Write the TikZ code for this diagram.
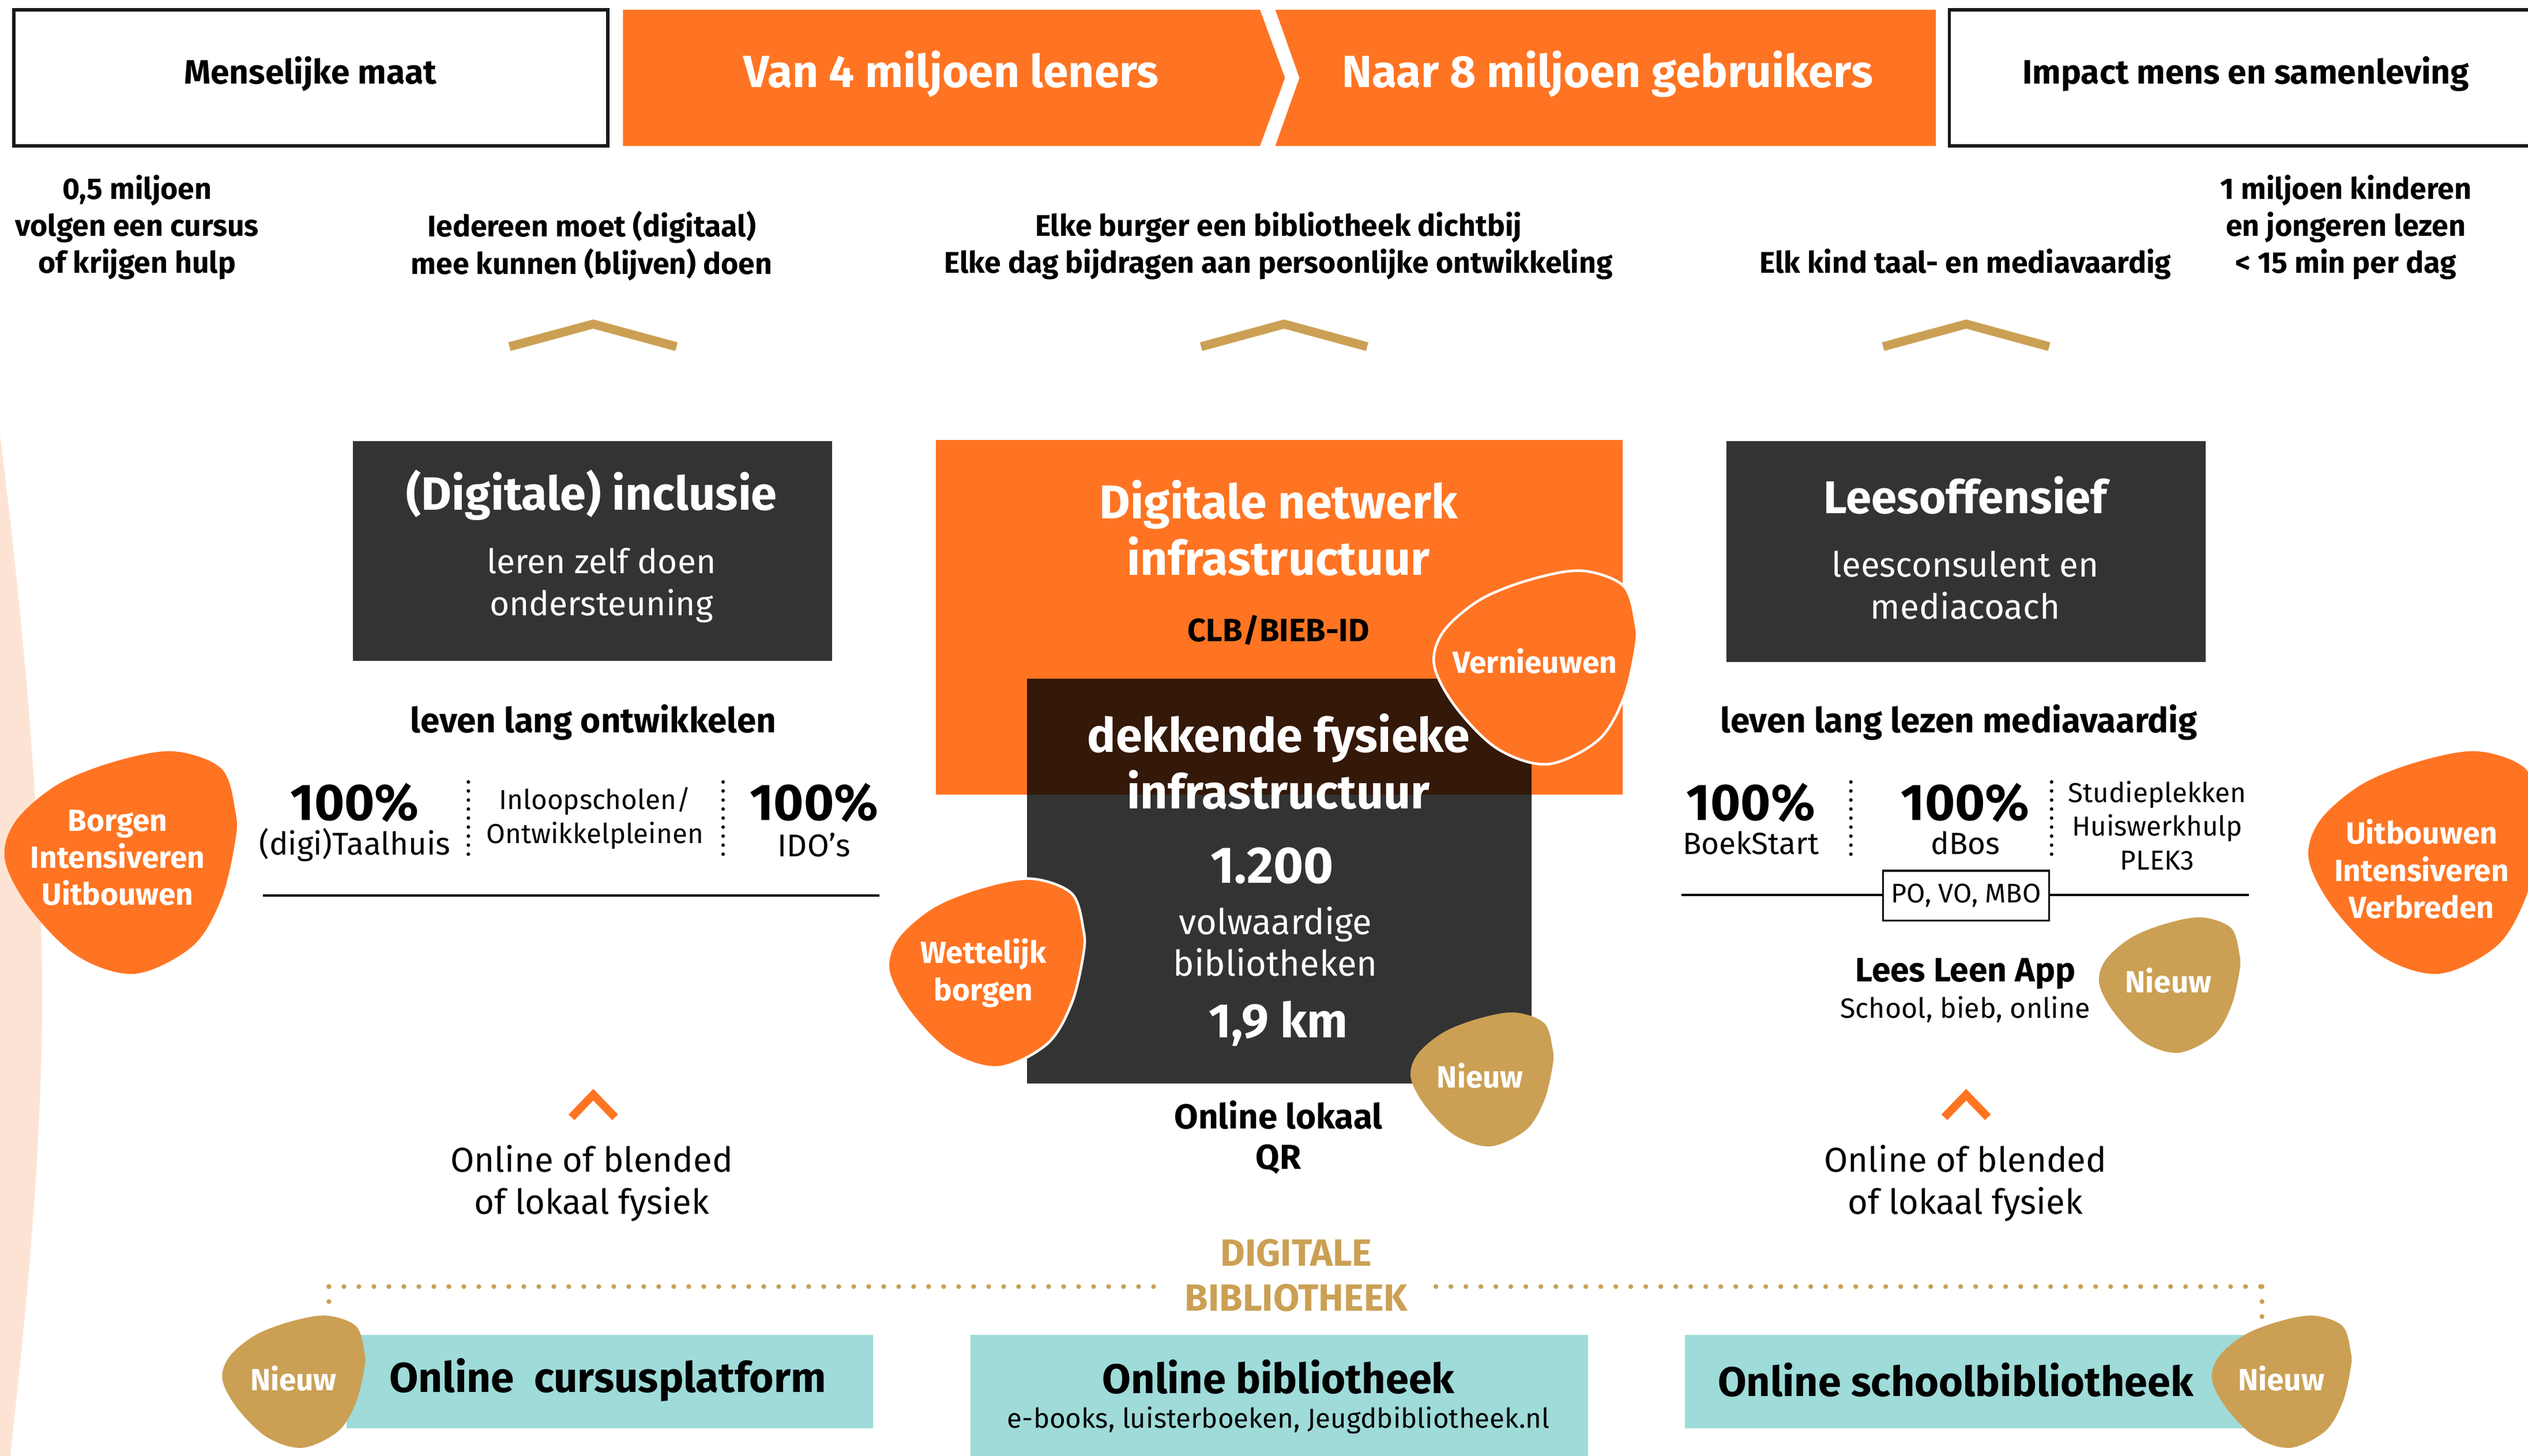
\documentclass[tikz,border=0pt]{standalone}
\usepackage{fontspec}
\setmainfont{Fira Sans}
\definecolor{orng}{HTML}{FF7422}
\definecolor{darkg}{HTML}{333333}
\definecolor{gold}{HTML}{CBA054}
\definecolor{tealbox}{HTML}{9EDBD9}
\definecolor{peach}{HTML}{FDE3D4}
\definecolor{brownov}{HTML}{341808}
\newcommand\fs[2]{\fontsize{#1pt}{#2pt}\selectfont}
\newcommand\pebble[5]{\begin{scope}[shift={(#1,#2)},xscale=#3,yscale=#4]
\path[#5] plot[smooth cycle,tension=0.55] coordinates {(0.463,-1) (0.880,-0.843) (1.0,-0.460) (1.0,-0.200) (0.880,0.320) (0.629,0.751) (0.127,1) (-0.373,0.839) (-0.790,0.403) (-1,-0.028) (-0.905,-0.375) (-0.539,-0.703) (-0.039,-0.910)};
\end{scope}}
\tikzset{
 lbl/.style={inner sep=0pt, align=center, text=black},
 wlbl/.style={inner sep=0pt, align=center, text=white},
 glbl/.style={inner sep=0pt, align=center, text=gold},
 caretg/.style={draw=gold, line width=5.5pt},
 careto/.style={draw=orng, line width=5pt},
 sepdots/.style={draw=black, line width=2.2pt, line cap=round, dash pattern=on 0pt off 5.6pt},
 golddots/.style={draw=gold, line width=3pt, line cap=round, dash pattern=on 0pt off 9.3pt},
 rulel/.style={draw=black, line width=1.3pt},
 topbox/.style={draw=black!90, line width=2pt, fill=white},
 darkbox/.style={fill=darkg},
 tbox/.style={fill=tealbox},
 oblob/.style={fill=orng},
 owblob/.style={fill=orng, draw=white, line width=1.6pt},
 gblob/.style={fill=gold}
}
\begin{document}
\begin{tikzpicture}[x=1pt,y=-1pt]
\useasboundingbox (0,0) rectangle (1568,903);
\clip (0,0) rectangle (1568,903);
\fill[white] (0,0) rectangle (1568,903);
% peach background arc
\fill[peach] (-1,262) .. controls (14,380) and (27,520) .. (26,630) .. controls (25,740) and (12,850) .. (6,906) -- (-1,906) -- cycle;

% ---------- top row ----------
\draw[topbox] (8.6,6) rectangle (377,90.5);
\node[lbl, font=\bfseries\fs{21}{25}] (mm) at (192.5,46) {Menselijke maat};
\fill[orng] (386.4,6) -- (781.5,6) -- (797,48.3) -- (781.5,90.5) -- (386.4,90.5) -- cycle;
\fill[orng] (791,6) -- (1200.7,6) -- (1200.7,90.5) -- (791,90.5) -- (806,48.3) -- cycle;
\node[wlbl, font=\bfseries\fs{28}{32}] (van) at (590,46) {Van 4 miljoen leners};
\node[wlbl, font=\bfseries\fs{28}{32}] (naar) at (997,46) {Naar 8 miljoen gebruikers};
\draw[topbox] (1209,6) rectangle (1576,90.5);
\node[lbl, font=\bfseries\fs{21}{25}] (imp) at (1393,46) {Impact mens en samenleving};

% ---------- second row ----------
\node[lbl, font=\bfseries\fs{18.5}{23}] (r2a) at (85,141) {0,5 miljoen\\volgen een cursus\\of krijgen hulp};
\node[lbl, font=\bfseries\fs{18.5}{23}] (r2b) at (367,152.5) {Iedereen moet (digitaal)\\mee kunnen (blijven) doen};
\node[lbl, font=\bfseries\fs{18.5}{23}] (r2c) at (793,152.5) {Elke burger een bibliotheek dichtbij\\Elke dag bijdragen aan persoonlijke ontwikkeling};
\node[lbl, font=\bfseries\fs{18.5}{23}] (r2d) at (1219,164) {Elk kind taal- en mediavaardig};
\node[lbl, font=\bfseries\fs{18.5}{23}] (r2e) at (1455,141) {1 miljoen kinderen\\en jongeren lezen\\< 15 min per dag};

% gold carets
\draw[caretg] (316,215) -- (368,201) -- (419.6,215);
\draw[caretg] (745,215) -- (796.5,201) -- (848,215);
\draw[caretg] (1168,215) -- (1219.5,201) -- (1271,215);

% ---------- left column ----------
\fill[darkbox] (219,273.6) rectangle (516,410);
\node[wlbl, font=\bfseries\fs{29}{34}] (dl1) at (367,307) {(Digitale) inclusie};
\node[wlbl, font=\fs{21}{26}] (dl2) at (373,363) {leren zelf doen\\ondersteuning};
\node[lbl, font=\bfseries\fs{21.5}{26}] (llo) at (368,448) {leven lang ontwikkelen};
\node[lbl, font=\bfseries\fs{32}{36}] (p1) at (220,498) {100\%};
\node[lbl, font=\fs{19.5}{23}] (p1t) at (220,524) {(digi)Taalhuis};
\draw[sepdots] (290.5,485) -- (290.5,531);
\node[lbl, font=\fs{17}{21}] (inl) at (369,507.5) {Inloopscholen/\\Ontwikkelpleinen};
\draw[sepdots] (448.5,485) -- (448.5,531);
\node[lbl, font=\bfseries\fs{32}{36}] (p2) at (505,498) {100\%};
\node[lbl, font=\fs{19.5}{23}] (p2t) at (505,524) {IDO’s};
\draw[rulel] (163,555.5) -- (545.5,555.5);

% ---------- centre column ----------
\fill[orng] (580.5,273) rectangle (1006.5,493);
\fill[darkbox] (637,421) rectangle (950,672);
\fill[brownov] (637,421) rectangle (950,493);
\node[wlbl, font=\bfseries\fs{29.5}{35}] (dni) at (793,327.5) {Digitale netwerk\\infrastructuur};
\node[lbl, font=\bfseries\fs{20}{24}] (clb) at (793,391) {CLB/BIEB-ID};
\pebble{952}{414}{62.5}{60}{owblob}
\node[wlbl, font=\bfseries\fs{19}{23}] (ver) at (952,410) {Vernieuwen};
\node[wlbl, font=\bfseries\fs{29.5}{35}] (dfi) at (793,472.5) {dekkende fysieke\\infrastructuur};
\node[wlbl, font=\bfseries\fs{32}{36}] (n1200) at (789,537) {1.200};
\node[wlbl, font=\fs{22}{26}] (vb) at (791,584) {volwaardige\\bibliotheken};
\node[wlbl, font=\bfseries\fs{30}{34}] (km) at (793,635) {1,9 km};
\pebble{611.5}{603.5}{60.5}{58.5}{owblob}
\node[wlbl, font=\bfseries\fs{19}{23}] (wet) at (610,603.5) {Wettelijk\\borgen};
\pebble{919}{669.5}{44}{41.5}{gblob}
\node[wlbl, font=\bfseries\fs{19}{23}] (nw1) at (918,667) {Nieuw};
\node[lbl, font=\bfseries\fs{21.5}{25}] (olq) at (793,705.5) {Online lokaal\\QR};

% ---------- right column ----------
\fill[darkbox] (1071,273.6) rectangle (1368,410.6);
\node[wlbl, font=\bfseries\fs{28.5}{34}] (dr1) at (1219,307) {Leesoffensief};
\node[wlbl, font=\fs{21.5}{26}] (dr2) at (1219,363) {leesconsulent en\\mediacoach};
\node[lbl, font=\bfseries\fs{21.5}{26}] (llm) at (1215,448) {leven lang lezen mediavaardig};
\node[lbl, font=\bfseries\fs{32}{36}] (p3) at (1086,498) {100\%};
\node[lbl, font=\fs{19}{23}] (p3t) at (1086,523) {BoekStart};
\draw[sepdots] (1148,485) -- (1148,531);
\node[lbl, font=\bfseries\fs{32}{36}] (p4) at (1219,498) {100\%};
\node[lbl, font=\fs{19}{23}] (p4t) at (1219,523) {dBos};
\draw[sepdots] (1272.5,485) -- (1272.5,531);
\node[lbl, font=\fs{17}{21}] (stu) at (1338,512) {Studieplekken\\Huiswerkhulp\\PLEK3};
\draw[rulel] (1043,555) -- (1168,555);
\draw[rulel] (1271,555) -- (1395,555);
\node[lbl, draw=black, line width=1.3pt, fill=white, minimum width=103pt, minimum height=31pt, font=\fs{16.7}{20}] (povo) at (1219.5,555.5) {PO, VO, MBO};
\node[lbl, font=\bfseries\fs{21}{25}] (lla) at (1219,604) {Lees Leen App};
\node[lbl, font=\fs{17.3}{22}] (sbo) at (1219,626) {School, bieb, online};
\pebble{1345.5}{611}{43.5}{42}{gblob}
\node[wlbl, font=\bfseries\fs{19}{23}] (nw2) at (1345,608) {Nieuw};

% side blobs
\pebble{74.5}{535}{71.5}{69}{oblob}
\node[wlbl, font=\bfseries\fs{19}{23}] (bor) at (73,532) {Borgen\\Intensiveren\\Uitbouwen};
\pebble{1503.5}{535}{71.5}{69}{oblob}
\node[wlbl, font=\bfseries\fs{19}{23}] (uit) at (1502,539) {Uitbouwen\\Intensiveren\\Verbreden};

% orange carets
\draw[careto] (354.5,693) -- (368,679) -- (381.5,693);
\draw[careto] (1206,693) -- (1219.5,679) -- (1233,693);
\node[lbl, font=\fs{21.4}{26}] (obl1) at (367,734) {Online of blended\\of lokaal fysiek};
\node[lbl, font=\fs{21.4}{26}] (obl2) at (1219,734) {Online of blended\\of lokaal fysiek};

% ---------- digitale bibliotheek ----------
\node[glbl, font=\bfseries\fs{23.5}{28}] (dbib) at (804,791) {DIGITALE\\BIBLIOTHEEK};
\coordinate (gl1) at (204,798);
\coordinate (gl2) at (716,798);
\coordinate (gr1) at (890.6,798);
\coordinate (gr2) at (1403,798);
\draw[golddots] (gl1) -- (gl2);
\draw[golddots] (gr1) -- (gr2);
\draw[golddots] (gl1) -- ++(0,10);
\draw[golddots] (gr2) -- ++(0,19);

\fill[tbox] (215,828) rectangle (541.5,886);
\node[lbl, font=\bfseries\fs{26}{30}] (ocp) at (377,856) {Online\ \ cursusplatform};
\pebble{182}{857}{44}{41}{gblob}
\node[wlbl, font=\bfseries\fs{19}{23}] (nw3) at (182,855) {Nieuw};

\fill[tbox] (602,828) rectangle (985,906);
\node[lbl, font=\bfseries\fs{25.8}{30}] (obib) at (793,854) {Online bibliotheek};
\node[lbl, font=\fs{17}{21}] (ebk) at (793,881) {e-books, luisterboeken, Jeugdbibliotheek.nl};

\fill[tbox] (1045,828) rectangle (1400,886);
\node[lbl, font=\bfseries\fs{25.7}{30}] (osb) at (1213,856) {Online schoolbibliotheek};
\pebble{1415}{857}{43}{41}{gblob}
\node[wlbl, font=\bfseries\fs{19}{23}] (nw4) at (1415,855) {Nieuw};
\end{tikzpicture}
\end{document}
